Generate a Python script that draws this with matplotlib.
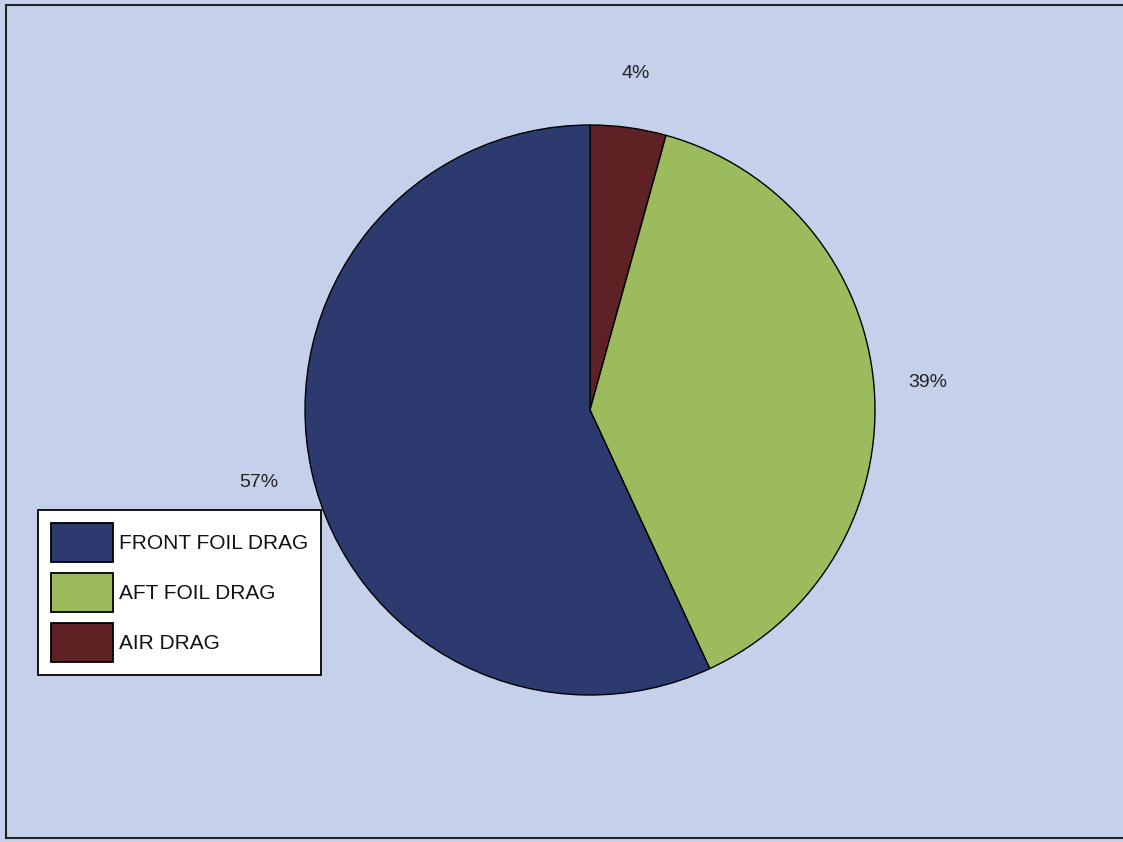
import matplotlib.pyplot as plt
import matplotlib.patches as mpatches
from matplotlib.lines import Line2D

# drag breakdown (clockwise from top: air, aft, front)
labels = ['AIR DRAG', 'AFT FOIL DRAG', 'FRONT FOIL DRAG']
shares = [4.3, 38.8, 56.9]
colors = ['#5e2224', '#9cbb5c', '#2c3a70']
pct_text = ['4%', '39%', '57%']
legend_order = ['FRONT FOIL DRAG', 'AFT FOIL DRAG', 'AIR DRAG']

bg = '#c5d0ea'
W, H = 1123, 842
fig = plt.figure(figsize=(11.23, 8.42), dpi=100)
fig.patch.set_facecolor(bg)
plt.rcParams['font.family'] = ['Liberation Sans', 'DejaVu Sans']

# pie axes: centre (590, 410) px, radius 285 px
cx, cy, r = 590, 410, 285
ax = fig.add_axes([(cx - r) / W, (H - cy - r) / H, 2 * r / W, 2 * r / H])
ax.set_facecolor('none')
wedges, texts = ax.pie(shares, labels=pct_text, colors=colors, startangle=90,
                       counterclock=False, labeldistance=1.19,
                       wedgeprops=dict(edgecolor='black', linewidth=1.0),
                       textprops=dict(fontsize=14, color='#222222',
                                      ha='center', va='center'))
ax.set_xlim(-1, 1)
ax.set_ylim(-1, 1)
ax.set_aspect('equal')
ax.axis('off')

# legend box, front / aft / air
by_name = dict(zip(labels, colors))
handles = [mpatches.Patch(facecolor=by_name[n], edgecolor='black', linewidth=1.3)
           for n in legend_order]
leg = fig.legend(handles, legend_order, loc='upper left',
                 bbox_to_anchor=(38 / W, 1 - 510 / H), borderaxespad=0,
                 fontsize=15, frameon=True, fancybox=False, shadow=False,
                 handlelength=3.0, handleheight=2.5, labelspacing=0.53,
                 handletextpad=0.25, borderpad=0.62)
leg.get_frame().set_edgecolor('black')
leg.get_frame().set_linewidth(1.3)
leg.get_frame().set_facecolor('white')
leg.get_frame().set_alpha(1)
for t in leg.get_texts():
    t.set_color('#111111')

# scanned page frame
for xs, ys in [([6 / W, 6 / W], [4 / H, 1 - 5 / H]),
               ([6 / W, 1], [1 - 5 / H, 1 - 5 / H]),
               ([6 / W, 1], [4 / H, 4 / H])]:
    fig.add_artist(Line2D(xs, ys, color='#222222', linewidth=1.5))

plt.savefig('out.png', dpi=100, facecolor=bg)
